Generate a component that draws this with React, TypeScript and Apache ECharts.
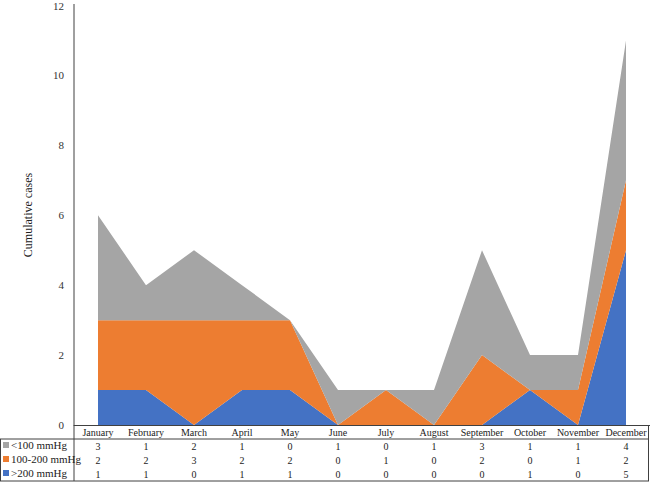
import React, { useEffect, useRef } from "react";
import * as echarts from "echarts";

const months = ["January","February","March","April","May","June","July","August","September","October","November","December"];
const seriesNames = ["<100 mmHg", "100-200 mmHg", ">200 mmHg"];
const lt100 = [3, 1, 2, 1, 0, 1, 0, 1, 3, 1, 1, 4];
const mid = [2, 2, 3, 2, 2, 0, 1, 0, 2, 0, 1, 2];
const gt200 = [1, 1, 0, 1, 1, 0, 0, 0, 0, 1, 0, 5];
const colors = ["#A5A5A5", "#ED7D31", "#4472C4"];
const yTicks = { min: 0, max: 12, interval: 2 };

const FONT = "Liberation Serif";

export default function App() {
  const ref = useRef<HTMLDivElement>(null);
  useEffect(() => {
    const chart = echarts.init(ref.current!, undefined, { renderer: "svg" });
    const rows = [lt100, mid, gt200];
    const rowY = [445, 459, 473];
    const lineColor = "#404040";
    const graphics: any[] = [
      { type: "line", shape: { x1: 74, y1: 4, x2: 74, y2: 481 }, style: { stroke: lineColor, lineWidth: 1 } },
      { type: "line", shape: { x1: 0, y1: 439, x2: 649, y2: 439 }, style: { stroke: lineColor, lineWidth: 1 } },
      { type: "line", shape: { x1: 0, y1: 481, x2: 649, y2: 481 }, style: { stroke: lineColor, lineWidth: 1 } },
      { type: "line", shape: { x1: 0.5, y1: 439, x2: 0.5, y2: 481 }, style: { stroke: lineColor, lineWidth: 1 } },
      { type: "line", shape: { x1: 648.5, y1: 425, x2: 648.5, y2: 481 }, style: { stroke: lineColor, lineWidth: 1 } },
      {
        type: "text", x: 28, y: 215, rotation: Math.PI / 2,
        style: { text: "Cumulative cases", font: `12px "${FONT}"`, fill: "#222", align: "center", verticalAlign: "middle" },
      },
    ];
    seriesNames.forEach((n, i) => {
      graphics.push({ type: "rect", shape: { x: 3, y: rowY[i] - 3, width: 6, height: 6 }, style: { fill: colors[i] } });
      graphics.push({
        type: "text", x: 11, y: rowY[i],
        style: { text: n, font: `11px "${FONT}"`, fill: "#222", verticalAlign: "middle" },
      });
    });
    const order = [2, 1, 0];
    chart.setOption({
      animation: false,
      grid: { left: 74, right: 0, top: 4, bottom: 57, containLabel: false },
      xAxis: {
        type: "category",
        data: months,
        boundaryGap: true,
        axisLine: { show: true, lineStyle: { color: lineColor, width: 1 } },
        axisTick: { show: false },
        axisLabel: {
          interval: 0,
          margin: 0,
          formatter: (v: string, idx: number) =>
            `{m|${v}}\n{v|${rows[0][idx]}}\n{v|${rows[1][idx]}}\n{v|${rows[2][idx]}}`,
          rich: {
            m: { fontFamily: FONT, fontSize: 10, color: "#222", lineHeight: 14, height: 14 },
            v: { fontFamily: FONT, fontSize: 10, color: "#222", lineHeight: 14, height: 14 },
          },
        },
      },
      yAxis: {
        type: "value",
        min: yTicks.min,
        max: yTicks.max,
        interval: yTicks.interval,
        axisLine: { show: false },
        axisTick: { show: false },
        splitLine: { show: false },
        axisLabel: { fontFamily: FONT, fontSize: 11, color: "#333", margin: 10 },
      },
      series: order.map((i) => ({
        name: seriesNames[i],
        type: "line",
        stack: "total",
        data: rows[i],
        symbol: "none",
        lineStyle: { width: 0 },
        areaStyle: { color: colors[i], opacity: 1 },
        itemStyle: { color: colors[i] },
      })),
      graphic: graphics,
    });
    return () => chart.dispose();
  }, []);
  return <div ref={ref} style={{ width: 650, height: 482, position: "absolute", left: 0, top: 0 }} />;
}
